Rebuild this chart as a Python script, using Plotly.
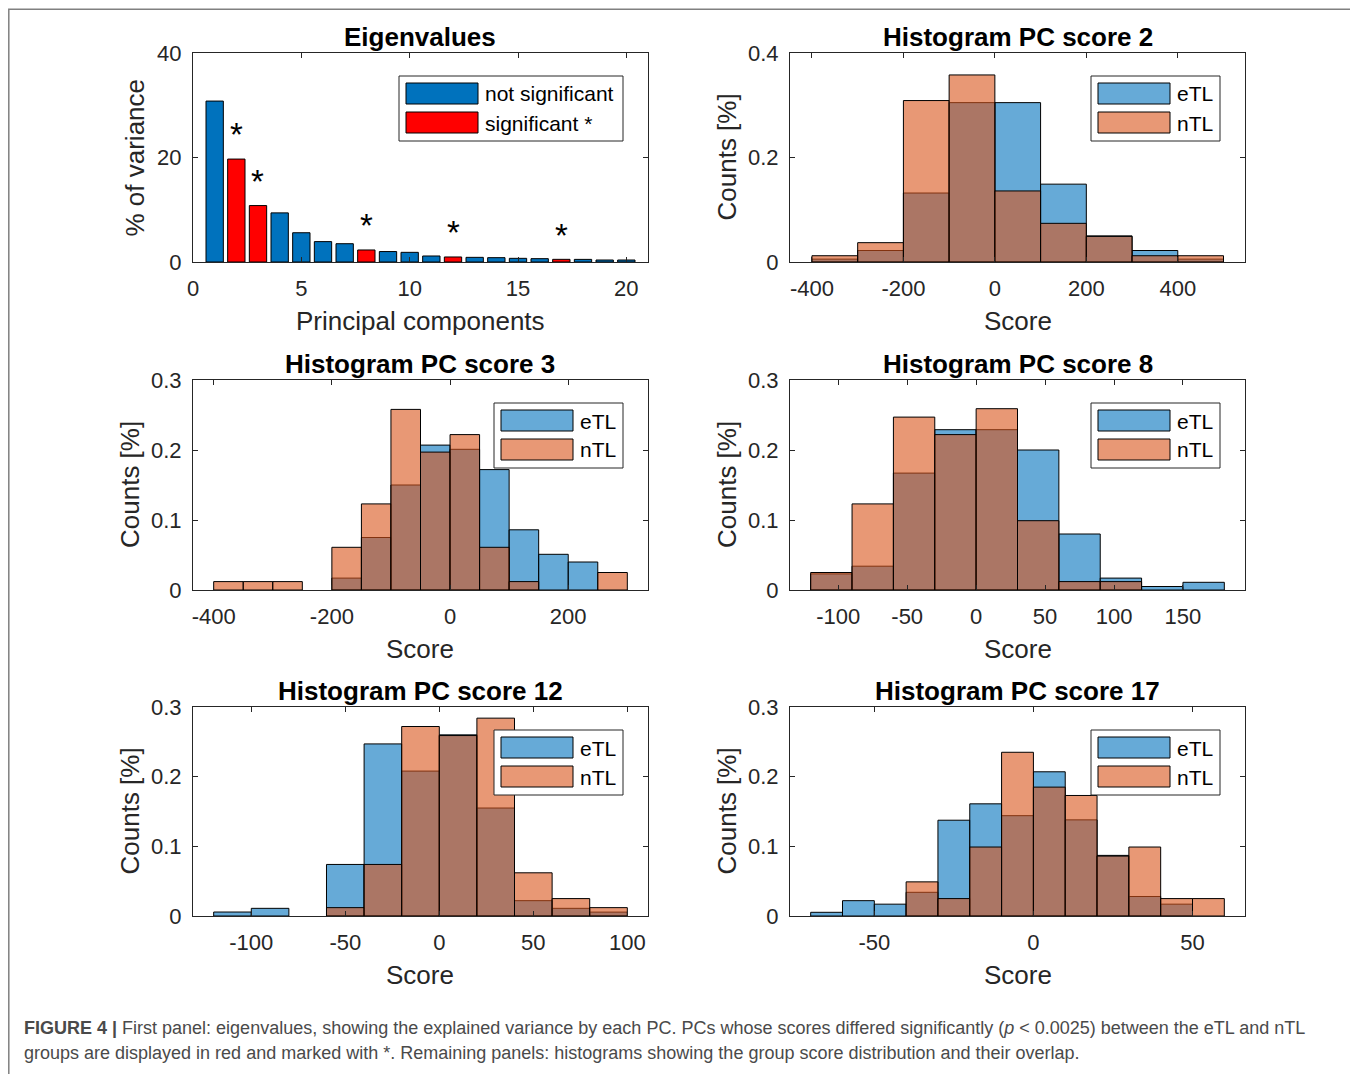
import plotly.graph_objects as go

W, H = 1358, 1074
# the page places the figure 8 px in from the top-left corner; compensate
OFF = 8

# ---------------- data ----------------
pc_index = list(range(1, 21))
explained_variance = [30.8, 19.7, 10.8, 9.4, 5.6, 3.9, 3.5, 2.3, 2.0, 1.85,
                      1.15, 0.96, 0.89, 0.83, 0.70, 0.64, 0.51, 0.50, 0.38, 0.38]
significant_pcs = [2, 3, 8, 12, 17]

pc2_edges = [-400, -300, -200, -100, 0, 100, 200, 300, 400, 500]
pc2_etl = [0.0055, 0.022, 0.132, 0.305, 0.305, 0.149, 0.050, 0.022, 0.0055]
pc2_ntl = [0.012, 0.037, 0.309, 0.358, 0.136, 0.074, 0.049, 0.012, 0.012]

pc3_edges = [-400, -350, -300, -250, -200, -150, -100, -50, 0, 50, 100, 150, 200, 250, 300]
pc3_etl = [0, 0, 0, 0, 0.017, 0.075, 0.150, 0.207, 0.201, 0.172, 0.086, 0.051, 0.040, 0]
pc3_ntl = [0.012, 0.012, 0.012, 0, 0.061, 0.123, 0.258, 0.197, 0.222, 0.061, 0.012, 0, 0, 0.025]

pc8_edges = [-120, -90, -60, -30, 0, 30, 60, 90, 120, 150, 180]
pc8_etl = [0.023, 0.034, 0.167, 0.229, 0.229, 0.200, 0.080, 0.017, 0.005, 0.011]
pc8_ntl = [0.025, 0.123, 0.247, 0.222, 0.259, 0.099, 0.012, 0.012, 0, 0]

pc12_edges = [-120, -100, -80, -60, -40, -20, 0, 20, 40, 60, 80, 100]
pc12_etl = [0.0057, 0.011, 0, 0.074, 0.247, 0.208, 0.260, 0.155, 0.022, 0.011, 0.0056]
pc12_ntl = [0, 0, 0, 0.012, 0.074, 0.272, 0.259, 0.284, 0.062, 0.025, 0.012]

pc17_edges = [-70, -60, -50, -40, -30, -20, -10, 0, 10, 20, 30, 40, 50, 60]
pc17_etl = [0.0053, 0.022, 0.017, 0.034, 0.1375, 0.161, 0.144, 0.207, 0.138, 0.087, 0.028, 0.017, 0]
pc17_ntl = [0, 0, 0, 0.049, 0.025, 0.099, 0.235, 0.185, 0.173, 0.086, 0.099, 0.025, 0.025]

eig_xticks = [0, 5, 10, 15, 20]
eig_yticks = [0, 20, 40]
pc2_xticks = [-400, -200, 0, 200, 400]
pc3_xticks = [-400, -200, 0, 200]
pc8_xticks = [-100, -50, 0, 50, 100, 150]
pc12_xticks = [-100, -50, 0, 50, 100]
pc17_xticks = [-50, 0, 50]
hist_yticks_a = [0, 0.2, 0.4]
hist_yticks_b = [0, 0.1, 0.2, 0.3]

# ---------------- style ----------------
FONT = "Liberation Sans, Arial, Helvetica, sans-serif"
AX = "#262626"
BLUE = "#0072BD"
RED = "#FF0000"
ETL = "rgba(0,114,189,0.6)"
NTL = "rgba(217,83,25,0.6)"
TICK_FS = 22
LABEL_FS = 26
TITLE_FS = 26
LEG_FS = 21


def xd(px):
    return (px - OFF) / W


def yd(py):
    return 1 - (py - OFF) / H


def lab(v):
    return "%g" % v


fig = go.Figure()

panels = [
    dict(n=1, box=(193, 53, 648, 262), xr=[0, 21], yr=[0, 40], xt=eig_xticks, yt=eig_yticks,
         title="Eigenvalues", xlabel="Principal components", ylabel="% of variance"),
    dict(n=2, box=(790, 53, 1245, 262), xr=[-448, 547], yr=[0, 0.4], xt=pc2_xticks, yt=hist_yticks_a,
         title="Histogram PC score 2", xlabel="Score", ylabel="Counts [%]",
         edges=pc2_edges, etl=pc2_etl, ntl=pc2_ntl),
    dict(n=3, box=(193, 380, 648, 590), xr=[-435, 335], yr=[0, 0.3], xt=pc3_xticks, yt=hist_yticks_b,
         title="Histogram PC score 3", xlabel="Score", ylabel="Counts [%]",
         edges=pc3_edges, etl=pc3_etl, ntl=pc3_ntl),
    dict(n=4, box=(790, 380, 1245, 590), xr=[-135, 195], yr=[0, 0.3], xt=pc8_xticks, yt=hist_yticks_b,
         title="Histogram PC score 8", xlabel="Score", ylabel="Counts [%]",
         edges=pc8_edges, etl=pc8_etl, ntl=pc8_ntl),
    dict(n=5, box=(193, 707, 648, 916), xr=[-131, 111], yr=[0, 0.3], xt=pc12_xticks, yt=hist_yticks_b,
         title="Histogram PC score 12", xlabel="Score", ylabel="Counts [%]",
         edges=pc12_edges, etl=pc12_etl, ntl=pc12_ntl),
    dict(n=6, box=(790, 707, 1245, 916), xr=[-76.5, 66.5], yr=[0, 0.3], xt=pc17_xticks, yt=hist_yticks_b,
         title="Histogram PC score 17", xlabel="Score", ylabel="Counts [%]",
         edges=pc17_edges, etl=pc17_etl, ntl=pc17_ntl),
]

annotations = []
shapes = []

for p in panels:
    n = p["n"]
    sfx = "" if n == 1 else str(n)
    x0, y0, x1, y1 = p["box"]
    axis_common = dict(
        showline=True, linecolor=AX, linewidth=1, mirror="ticks",
        ticks="inside", ticklen=5, tickwidth=1, tickcolor=AX,
        showgrid=False, zeroline=False, automargin=False,
        tickfont=dict(family=FONT, size=TICK_FS, color=AX),
    )
    fig.layout["xaxis" + sfx] = dict(
        axis_common, domain=[xd(x0), xd(x1)], range=p["xr"], anchor="y" + sfx,
        tickvals=p["xt"], ticktext=[lab(v) for v in p["xt"]], ticklabelstandoff=7,
    )
    fig.layout["yaxis" + sfx] = dict(
        axis_common, domain=[yd(y1), yd(y0)], range=p["yr"], anchor="x" + sfx,
        tickvals=p["yt"], ticktext=[lab(v) for v in p["yt"]], ticklabelstandoff=6,
    )

    cx = (x0 + x1) / 2
    cy = (y0 + y1) / 2
    annotations.append(dict(text="<b>%s</b>" % p["title"], x=xd(cx), y=yd(y0 - 16),
                            xref="paper", yref="paper", xanchor="center", yanchor="middle",
                            showarrow=False, font=dict(family=FONT, size=TITLE_FS, color="black")))
    annotations.append(dict(text=p["xlabel"], x=xd(cx), y=yd(y1 + 59),
                            xref="paper", yref="paper", xanchor="center", yanchor="middle",
                            showarrow=False, font=dict(family=FONT, size=LABEL_FS, color=AX)))
    annotations.append(dict(text=p["ylabel"], x=xd(x0 - 58 - (5 if n > 1 else 0)), y=yd(cy),
                            xref="paper", yref="paper", xanchor="center", yanchor="middle",
                            textangle=-90,
                            showarrow=False, font=dict(family=FONT, size=LABEL_FS, color=AX)))

    xa = "x" + sfx
    ya = "y" + sfx
    if n == 1:
        ns_x = [i for i in pc_index if i not in significant_pcs]
        ns_y = [v for i, v in zip(pc_index, explained_variance) if i not in significant_pcs]
        s_x = [i for i in pc_index if i in significant_pcs]
        s_y = [v for i, v in zip(pc_index, explained_variance) if i in significant_pcs]
        fig.add_trace(go.Bar(x=ns_x, y=ns_y, width=0.8, xaxis=xa, yaxis=ya, name="not significant",
                             marker=dict(color=BLUE, line=dict(color="black", width=1))))
        fig.add_trace(go.Bar(x=s_x, y=s_y, width=0.8, xaxis=xa, yaxis=ya, name="significant *",
                             marker=dict(color=RED, line=dict(color="black", width=1))))
        for i, v in zip(s_x, s_y):
            annotations.append(dict(text="*", x=i, y=v + 5, xref=xa, yref=ya, yshift=-2,
                                    xanchor="center", yanchor="middle", showarrow=False,
                                    font=dict(family=FONT, size=33, color="black")))
        legend_items = [("not significant", BLUE), ("significant *", RED)]
        lw = 224
    else:
        edges = p["edges"]
        centers = [(a + b) / 2 for a, b in zip(edges[:-1], edges[1:])]
        widths = [b - a for a, b in zip(edges[:-1], edges[1:])]
        for name, vals, col in (("eTL", p["etl"], ETL), ("nTL", p["ntl"], NTL)):
            fig.add_trace(go.Bar(x=centers, y=[v if v > 0 else None for v in vals], width=widths,
                                 xaxis=xa, yaxis=ya, name=name,
                                 marker=dict(color=col, line=dict(color="black", width=1))))
        legend_items = [("eTL", ETL), ("nTL", NTL)]
        lw = 129

    # legend box (MATLAB style)
    lx1 = x1 - 25
    lx0 = lx1 - lw
    ly0 = y0 + 23
    ly1 = ly0 + 65
    shapes.append(dict(type="rect", xref="paper", yref="paper",
                       x0=xd(lx0), x1=xd(lx1), y0=yd(ly1), y1=yd(ly0),
                       line=dict(color=AX, width=1), fillcolor="white", layer="above"))
    for k, (txt, col) in enumerate(legend_items):
        sy0 = ly0 + 7 + k * 29
        shapes.append(dict(type="rect", xref="paper", yref="paper",
                           x0=xd(lx0 + 7), x1=xd(lx0 + 79), y0=yd(sy0 + 21), y1=yd(sy0),
                           line=dict(color="black", width=1), fillcolor=col, layer="above"))
        annotations.append(dict(text=txt, x=xd(lx0 + 84), y=yd(sy0 + 11),
                                xref="paper", yref="paper", xanchor="left", yanchor="middle",
                                showarrow=False, font=dict(family=FONT, size=LEG_FS, color="black")))

# outer frame
shapes.append(dict(type="rect", xref="paper", yref="paper", x0=xd(8.8), x1=xd(1351),
                   y0=-0.05, y1=yd(9.3), line=dict(color="#808080", width=1.5), layer="below"))

# caption
CAP_FS = 18
CAP_COL = "#4a4a4a"
annotations.append(dict(
    text="<b>FIGURE 4 |</b> First panel: eigenvalues, showing the explained variance by each PC. "
         "PCs whose scores differed significantly (<i>p</i> &lt; 0.0025) between the eTL and nTL",
    x=xd(22), y=yd(1028), xref="paper", yref="paper", xanchor="left", yanchor="middle",
    showarrow=False, font=dict(family=FONT, size=CAP_FS, color=CAP_COL)))
annotations.append(dict(
    text="groups are displayed in red and marked with *. Remaining panels: histograms showing "
         "the group score distribution and their overlap.",
    x=xd(22), y=yd(1053), xref="paper", yref="paper", xanchor="left", yanchor="middle",
    showarrow=False, font=dict(family=FONT, size=CAP_FS, color=CAP_COL)))

fig.update_layout(
    width=W, height=H, margin=dict(l=0, r=0, t=0, b=0, pad=0, autoexpand=False),
    paper_bgcolor="white", plot_bgcolor="white",
    barmode="overlay", showlegend=False,
    annotations=annotations, shapes=shapes,
    font=dict(family=FONT, color=AX),
)

fig.write_html("out.html")
